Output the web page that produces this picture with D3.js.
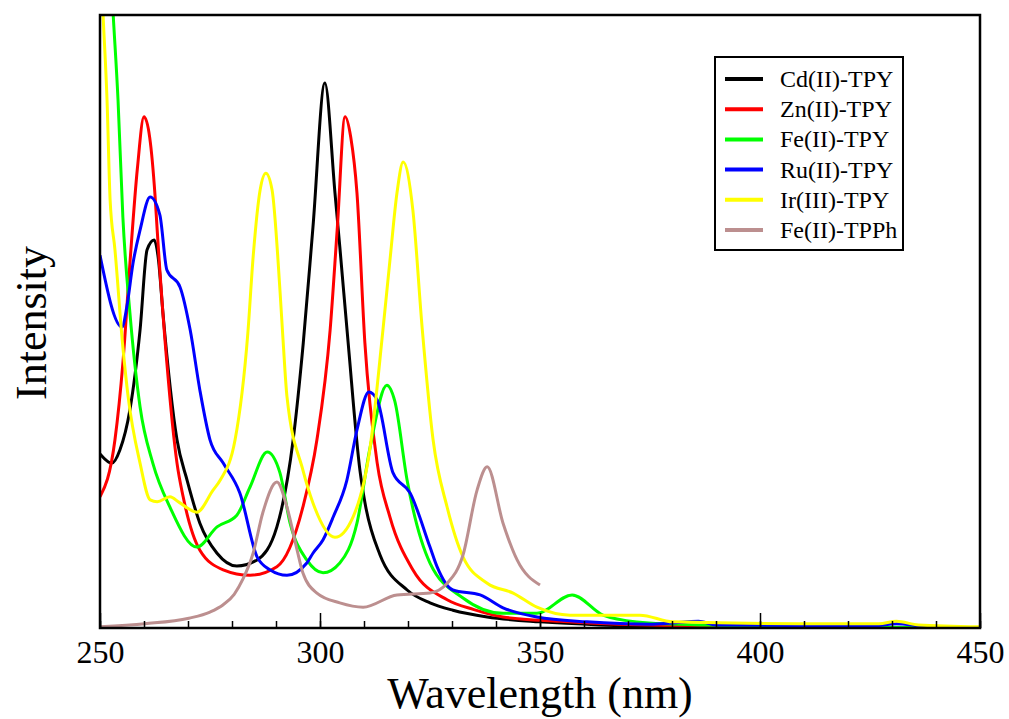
<!DOCTYPE html>
<html>
<head>
<meta charset="utf-8">
<script src="https://cdn.jsdelivr.net/npm/d3@7"></script>
<style>
  body { margin: 0; background: #fff; }
  text { font-family: "Liberation Serif", "Times New Roman", serif; }
</style>
</head>
<body>
<svg id="chart"></svg>
<script>
// Emission spectra of TPY complexes (arbitrary intensity units)
const cdTPY = [[250,28.4],[252.7,26.9],[254.5,29],[256.8,35.6],[259.1,48.6],[260.7,61.7],[262.3,63.3],[263.3,60],[264.3,51.4],[267.5,30.7],[269.8,24.1],[272.7,17.1],[276.6,12.2],[281.1,10.1],[285.7,11.1],[290.2,16.5],[293.9,30.7],[296.2,46.5],[298.4,65.4],[301.1,88.9],[303.4,71],[304.5,62.2],[306.4,46.5],[309.1,25.6],[310.2,20.5],[313.6,12],[319.8,6.2],[325,4.1],[330.2,2.9],[338,1.8],[350,1.0],[363.6,0.5],[386,0.2],[450,0]];
const znTPY = [[250,21.4],[253.4,30.7],[255.2,43.2],[256.8,59.5],[258.5,75],[260,83.4],[261.3,80],[262.5,70.6],[263,64.9],[265.2,43.2],[267.5,26.9],[268.9,21.4],[272.7,12.7],[278,9.5],[284.1,8.6],[290.2,10],[296.1,19.7],[299.3,30.7],[302.3,48.6],[303.9,64.9],[305.7,83.4],[307,80],[308.4,71],[310.2,46.5],[313,26.9],[315.9,18.1],[321.1,9.5],[328.9,4.6],[335,3],[341.6,1.8],[354.5,1.1],[368,0.6],[386,0.3],[450,0]];
const feTPY = [[250,140],[253,100],[254.1,86.1],[255.2,67],[256.8,51.4],[259.1,36.1],[262,26.9],[265.9,19.7],[272,13.2],[276.6,16.5],[281.1,18.4],[284.1,23],[288,28.7],[290.9,25.3],[293.2,17.1],[297,11.1],[300.7,9],[304.5,10.6],[308.4,17.1],[311.4,29.5],[315.2,39.6],[317,37],[319.8,24.1],[325,10.6],[332.5,4.9],[341.6,2.4],[349.3,2.4],[357.3,5.4],[364.3,2.1],[372,1.0],[386,0.5],[450,0]];
const ruTPY = [[250,60.8],[255,49.1],[256.1,52.4],[257.5,59.5],[259.1,64.9],[261.4,70.3],[263.6,67.4],[265.2,58.4],[268.2,55.6],[270.5,48.6],[272.7,38.8],[275,30.7],[278,26.9],[281.8,22],[285.7,11.6],[288.6,9.5],[292.5,8.6],[297,10.6],[298.4,12.2],[300.7,14.4],[303,18.1],[306.1,24.1],[308.4,32.3],[311.1,38.5],[313,37.2],[316.6,25.3],[320.5,22],[325,13.2],[326.6,10],[330.2,6.2],[336.4,5.4],[341.6,3.3],[349.3,1.8],[360.7,1.0],[375,0.6],[380,0.8],[386,1.1],[390,0.5],[425,0.3],[431,0.7],[437,0.3],[450,0]];
const irTPY = [[250,112],[250.7,100],[251.6,86.1],[252.3,69.8],[253.4,61.7],[255.2,45.8],[256.4,37.7],[259.1,26.9],[261.4,20.9],[263,20.6],[265.9,21.4],[268,20.5],[272,18.9],[275.7,22.5],[277.3,24.1],[280.7,30.7],[283.6,48.1],[284.8,60.5],[286.4,71.5],[287.7,74.2],[289.1,71.5],[290.9,55.1],[291.6,47],[292.5,37.7],[296.1,25.8],[298.4,20.4],[303.4,14.8],[307.5,18.1],[311.4,29.5],[314.3,48.6],[315.9,60],[317.5,71],[318.9,76],[321.1,68.2],[323.2,49.1],[325.7,30.7],[328.9,19.7],[332.5,11.6],[338,7.3],[343.9,5.7],[349.3,3.4],[356.8,2.1],[368.9,2.1],[372.7,2.1],[380.2,1.0],[409,0.7],[427,0.7],[431,1.1],[436,0.5],[450,0.2]];
const feTPPh = [[250,0.2],[260.2,0.7],[270.2,1.6],[275,2.6],[278,3.8],[280.5,5.5],[282.5,8],[284.8,12.2],[287,18.8],[290.2,23.8],[292.5,19.7],[294.8,12.7],[296.1,9],[299.3,5.7],[304.5,4.1],[309.8,3.4],[317.5,5.4],[325,5.7],[328.9,7.3],[332.5,11.9],[335.7,22.5],[338,26.3],[341.6,17.1],[344.8,11.1],[350,7]];

const seriesNames = ["Cd(II)-TPY", "Zn(II)-TPY", "Fe(II)-TPY", "Ru(II)-TPY", "Ir(III)-TPY", "Fe(II)-TPPh"];
const seriesData = [cdTPY, znTPY, feTPY, ruTPY, irTPY, feTPPh];
const seriesColors = ["#000000", "#ff0000", "#00ff00", "#0000ff", "#ffff00", "#bc8f8f"];

const majorTicks = [250, 300, 350, 400, 450];
const minorTicks = d3.range(250, 451, 10);

const W = 1009, H = 719;
const margin = { top: 15, right: 29, bottom: 91, left: 100 };
const width = W - margin.left - margin.right;
const height = H - margin.top - margin.bottom;

const svg = d3.select("#chart").attr("width", W).attr("height", H);
const g = svg.append("g").attr("transform", `translate(${margin.left},${margin.top})`);

const x = d3.scaleLinear().domain([250, 450]).range([0, width]);
const y = d3.scaleLinear().domain([0, 100]).range([height, 0]);

// clip curves to the frame
svg.append("defs").append("clipPath").attr("id", "plot-clip")
  .append("rect").attr("width", width).attr("height", height);

const line = d3.line()
  .curve(d3.curveMonotoneX)
  .x(d => x(d[0]))
  .y(d => y(d[1]));

const curves = g.append("g").attr("clip-path", "url(#plot-clip)");
seriesData.forEach((data, i) => {
  curves.append("path")
    .datum(data)
    .attr("fill", "none")
    .attr("stroke", seriesColors[i])
    .attr("stroke-width", 3)
    .attr("stroke-linejoin", "round")
    .attr("d", line);
});

// minor ticks (inward)
g.append("g")
  .attr("transform", `translate(0,${height})`)
  .call(d3.axisBottom(x).tickValues(minorTicks).tickSize(-7).tickFormat(""))
  .call(a => a.select(".domain").remove())
  .call(a => a.selectAll("line").attr("stroke", "#000").attr("stroke-width", 1.5));

// major ticks with labels
g.append("g")
  .attr("transform", `translate(0,${height})`)
  .call(d3.axisBottom(x).tickValues(majorTicks).tickSize(-15).tickPadding(12).tickFormat(d3.format("d")))
  .attr("font-family", null)
  .attr("font-size", null)
  .call(a => a.select(".domain").remove())
  .call(a => a.selectAll("line").attr("stroke", "#000").attr("stroke-width", 1.5))
  .call(a => a.selectAll("text")
    .attr("fill", "#000")
    .attr("font-family", "Liberation Serif, serif")
    .attr("font-size", 32));

// frame
g.append("rect")
  .attr("width", width).attr("height", height)
  .attr("fill", "none").attr("stroke", "#000").attr("stroke-width", 2.5);

// axis titles
svg.append("text")
  .attr("x", margin.left + width / 2)
  .attr("y", 708)
  .attr("text-anchor", "middle")
  .style("font-size", "44px")
  .text("Wavelength (nm)");

svg.append("text")
  .attr("transform", `translate(46,${margin.top + 308}) rotate(-90)`)
  .attr("text-anchor", "middle")
  .style("font-size", "44px")
  .text("Intensity");

// legend
const legend = svg.append("g").attr("transform", "translate(715,57)");
legend.append("rect")
  .attr("width", 188).attr("height", 193)
  .attr("fill", "#fff").attr("stroke", "#000").attr("stroke-width", 2);
seriesNames.forEach((name, i) => {
  const ly = 22 + i * 30.2;
  legend.append("line")
    .attr("x1", 10).attr("x2", 48)
    .attr("y1", ly).attr("y2", ly)
    .attr("stroke", seriesColors[i]).attr("stroke-width", 4);
  legend.append("text")
    .attr("x", 65).attr("y", ly + 8)
    .style("font-size", "24px")
    .text(name);
});
</script>
</body>
</html>
